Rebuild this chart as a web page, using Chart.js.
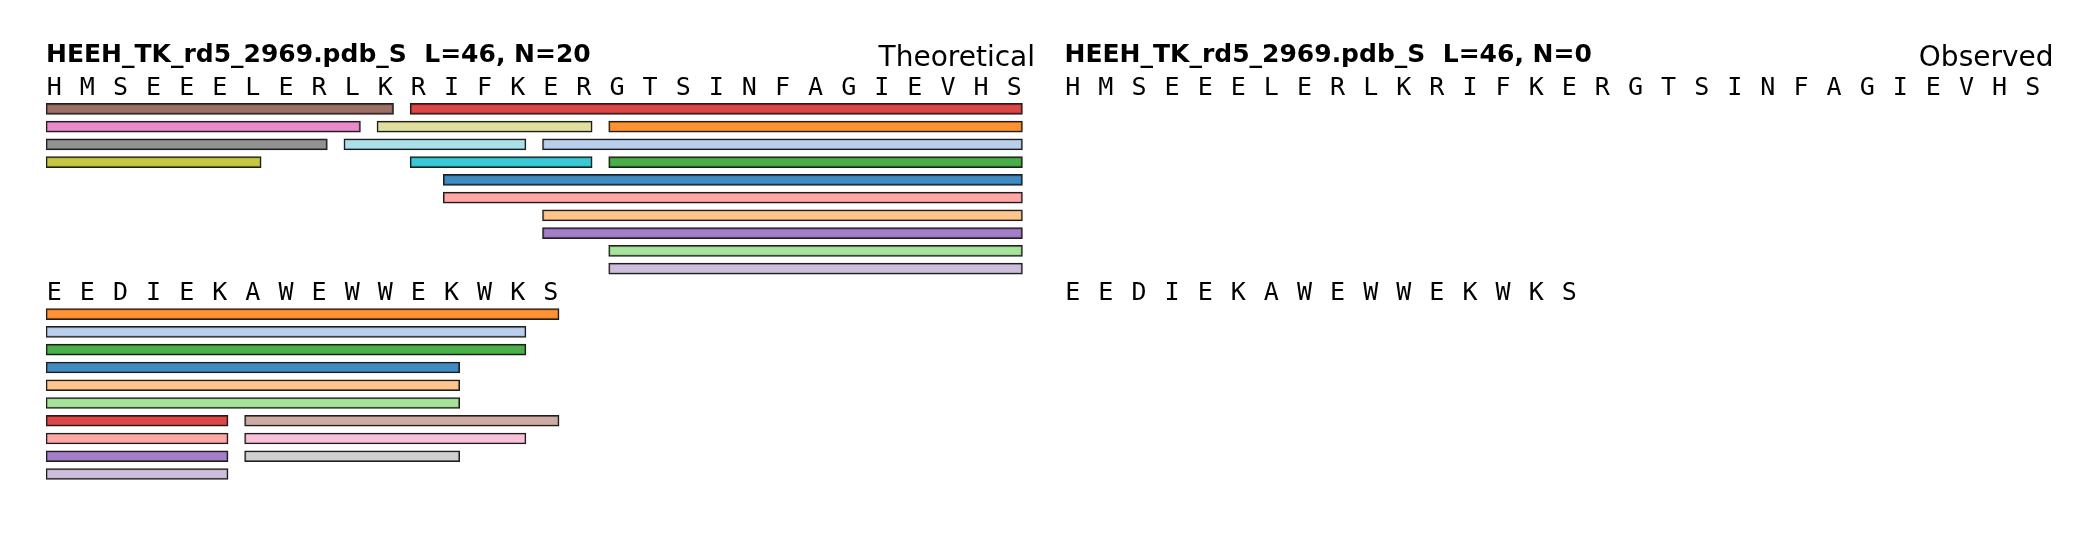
<!DOCTYPE html>
<html>
<head>
<meta charset="utf-8">
<script src="https://cdn.jsdelivr.net/npm/chart.js@4.4.1/dist/chart.umd.min.js"></script>
<style>
  html, body { margin: 0; padding: 0; background: #ffffff; }
  #wrap { position: relative; width: 2100px; height: 540px; background: #ffffff; overflow: hidden; }
  canvas { position: absolute; top: 0; }
</style>
</head>
<body>
<div id="wrap">
  <canvas id="left" width="1050" height="540" style="left:0px"></canvas>
  <canvas id="right" width="1050" height="540" style="left:1050px"></canvas>
</div>
<script>
// ---------------- DATA ----------------
const sequence = "HMSEEELERLKRIFKERGTSINFAGIEVHSEEDIEKAWEWWEKWKS";
const proteinName = "HEEH_TK_rd5_2969.pdb_S";
const panelLabels = ["Theoretical", "Observed"];
const lineLength = 30;

// peptides (0-based residue index, inclusive), in palette order
const pepStart = [12, 15, 17, 15, 17, 17, 11, 12, 15, 17,  0, 36,  0, 36,  0, 36,  0, 10, 11,  9];
const pepEnd   = [42, 44, 45, 42, 44, 42, 35, 35, 35, 35, 10, 45,  9, 44,  8, 42,  6, 16, 16, 14];
// stacking row of each peptide in sequence line 1 and line 2 (null = not present)
const rowLine1 = [ 4,  2,  1,  6,  3,  8,  0,  5,  7,  9,  0, null, 1, null, 2, null, 3,  1,  3,  2];
const rowLine2 = [ 3,  1,  0,  4,  2,  5,  6,  7,  8,  9, null, 6, null, 7, null, 8, null, null, null, null];
const pepColors = ["#1f77b4","#aec7e8","#ff7f0e","#ffbb78","#2ca02c","#98df8a","#d62728","#ff9896",
                   "#9467bd","#c5b0d5","#8c564b","#c49c94","#e377c2","#f7b6d2","#7f7f7f","#c7c7c7",
                   "#bcbd22","#dbdb8d","#17becf","#9edae5"];
// which peptides are shown in each panel
const theoreticalPeptides = pepStart.map((_, i) => i);
const observedPeptides = [];

// ---------------- LAYOUT CONSTANTS ----------------
const LINE_GAP = 11.57;      // rows between the two sequence lines
const LETTER_ROW = -0.78;    // letter baseline relative to first bar row
const TITLE_ROW = -2.62;
const LABEL_ROW = -2.43;
const LABEL_X = 29.88;
const Y_MIN = -6.13, Y_MAX = 24.29;

function hexToRgba(hex, a) {
  const n = parseInt(hex.slice(1), 16);
  return `rgba(${(n >> 16) & 255},${(n >> 8) & 255},${n & 255},${a})`;
}

function buildBars(peps) {
  const data = [], bg = [];
  const nLines = Math.ceil(sequence.length / lineLength);
  for (let L = 0; L < nLines; L++) {
    const lo = L * lineLength, hi = Math.min(sequence.length, lo + lineLength) - 1;
    const rows = L === 0 ? rowLine1 : rowLine2;
    peps.forEach(i => {
      const s = Math.max(pepStart[i], lo), e = Math.min(pepEnd[i], hi);
      if (s > e || rows[i] === null) return;
      data.push({ x: [s - lo, e - lo + 0.5], y: L * LINE_GAP + rows[i] });
      bg.push(hexToRgba(pepColors[i], 0.85));
    });
  }
  return { data, bg };
}

const textPlugin = {
  id: 'seqText',
  afterDatasetsDraw(chart, args, opts) {
    const { ctx, scales: { x, y } } = chart;
    ctx.save();
    ctx.fillStyle = '#000';
    ctx.textBaseline = 'alphabetic';
    // sequence letters
    ctx.font = '25px "DejaVu Sans Mono", monospace';
    ctx.textAlign = 'center';
    for (let k = 0; k < sequence.length; k++) {
      const L = Math.floor(k / lineLength), i = k % lineLength;
      ctx.fillText(sequence[k], x.getPixelForValue(i + 0.25), y.getPixelForValue(L * LINE_GAP + LETTER_ROW));
    }
    // title
    ctx.font = 'bold 25px "DejaVu Sans", sans-serif';
    ctx.textAlign = 'left';
    ctx.fillText(opts.title, x.getPixelForValue(0), y.getPixelForValue(TITLE_ROW));
    ctx.font = '28px "DejaVu Sans", sans-serif';
    ctx.textAlign = 'right';
    ctx.fillText(opts.label, x.getPixelForValue(LABEL_X), y.getPixelForValue(LABEL_ROW));
    ctx.restore();
  }
};

function makePanel(canvasId, peps, label, padLeft) {
  const bars = buildBars(peps);
  return new Chart(document.getElementById(canvasId), {
    type: 'bar',
    data: {
      datasets: [{
        data: bars.data,
        backgroundColor: bars.bg,
        borderColor: '#1e1e1e',
        borderWidth: 1.5,
        borderSkipped: false,
        barThickness: 11
      }]
    },
    options: {
      indexAxis: 'y',
      responsive: false,
      animation: false,
      devicePixelRatio: 1,
      layout: { padding: { left: padLeft, right: 1050 - padLeft - 993, top: 0, bottom: 0 } },
      scales: {
        x: { type: 'linear', min: 0, max: lineLength, offset: false, display: false },
        y: { type: 'linear', min: Y_MIN, max: Y_MAX, reverse: true, offset: false, display: false }
      },
      plugins: {
        legend: { display: false },
        tooltip: { enabled: false },
        seqText: { title: `${proteinName}  L=${sequence.length}, N=${peps.length}`, label: label }
      }
    },
    plugins: [textPlugin]
  });
}

makePanel('left', theoreticalPeptides, panelLabels[0], 46);
makePanel('right', observedPeptides, panelLabels[1], 14.5);
</script>
</body>
</html>
